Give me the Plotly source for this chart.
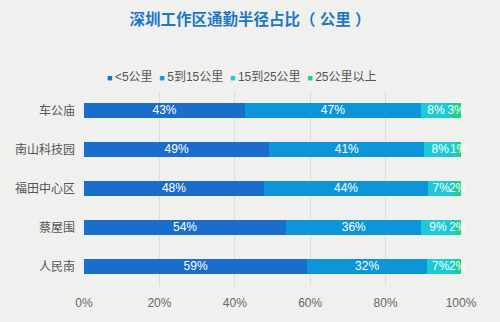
import plotly.graph_objects as go

categories = ["车公庙", "南山科技园", "福田中心区", "蔡屋围", "人民南"]
series_names = ["<5公里", "5到15公里", "15到25公里", "25公里以上"]
lt5 = [42.7, 49.1, 47.7, 53.6, 59.2]
r5_15 = [46.6, 41.2, 43.6, 35.9, 31.8]
r15_25 = [8.1, 8.4, 6.9, 8.8, 7.2]
ge25 = [2.6, 1.3, 1.8, 1.7, 1.8]
x_ticks = [0, 20, 40, 60, 80, 100]
x_tick_labels = ["0%", "20%", "40%", "60%", "80%", "100%"]
title_text = "深圳工作区通勤半径占比（ 公里 ）"

colors = ["#1a6dcb", "#0c95d8", "#1ccad6", "#1ecf8c"]
BG = "#f0f1ef"
FONT = "Liberation Sans, Noto Sans CJK SC, sans-serif"

all_series = [lt5, r5_15, r15_25, ge25]

fig = go.Figure()
for name, vals, col in zip(series_names, all_series, colors):
    fig.add_trace(go.Bar(
        y=categories, x=vals, name=name, orientation="h",
        marker=dict(color=col, line=dict(width=0)),
        showlegend=False, hoverinfo="x+y",
    ))

# value labels centred on each segment (computed from the data)
base = [0.0] * len(categories)
for vals in all_series:
    mids = [b + v / 2 for b, v in zip(base, vals)]
    fig.add_trace(go.Scatter(
        y=categories, x=mids, mode="text",
        text=[f"{v:.0f}%" for v in vals],
        textposition="middle center",
        textfont=dict(color="white", size=12, family=FONT),
        showlegend=False, hoverinfo="skip", cliponaxis=False,
    ))
    base = [b + v for b, v in zip(base, vals)]

legend_parts = []
for name, col in zip(series_names, colors):
    safe = name.replace("<", "&lt;")
    legend_parts.append(
        f'<span style="color:{col};font-size:9px">■ </span>{safe}'
    )
legend_text = "&nbsp;&nbsp;".join(legend_parts)

fig.add_annotation(
    text=legend_text, xref="paper", yref="paper",
    x=(105 - 84) / 377, y=1 + (91 - 76.5) / 198, xanchor="left", yanchor="middle",
    showarrow=False, font=dict(size=12, color="#555555", family=FONT),
)

fig.update_layout(
    width=500, height=322,
    paper_bgcolor=BG, plot_bgcolor=BG,
    barmode="stack", bargap=0.595,
    margin=dict(l=84, r=39, t=91, b=33),
    title=dict(text=f"<b>{title_text}</b>", x=0.5, xanchor="center", y=1 - 20 / 322,
               yanchor="middle", font=dict(size=15.5, color="#2077c9", family=FONT)),
    font=dict(family=FONT, color="#555555", size=12),
    xaxis=dict(range=[0, 100], tickvals=x_ticks, ticktext=x_tick_labels,
               showgrid=True, gridcolor="#dcdddc", gridwidth=1, zeroline=False,
               showline=False, ticks="", ticklabelstandoff=8,
               tickfont=dict(size=12, color="#666666")),
    yaxis=dict(categoryorder="array", categoryarray=categories, autorange="reversed",
               showgrid=False, zeroline=False, showline=False, ticks="",
               ticklabelstandoff=8, tickfont=dict(size=12, color="#555555")),
)

fig.write_html("out.html")
